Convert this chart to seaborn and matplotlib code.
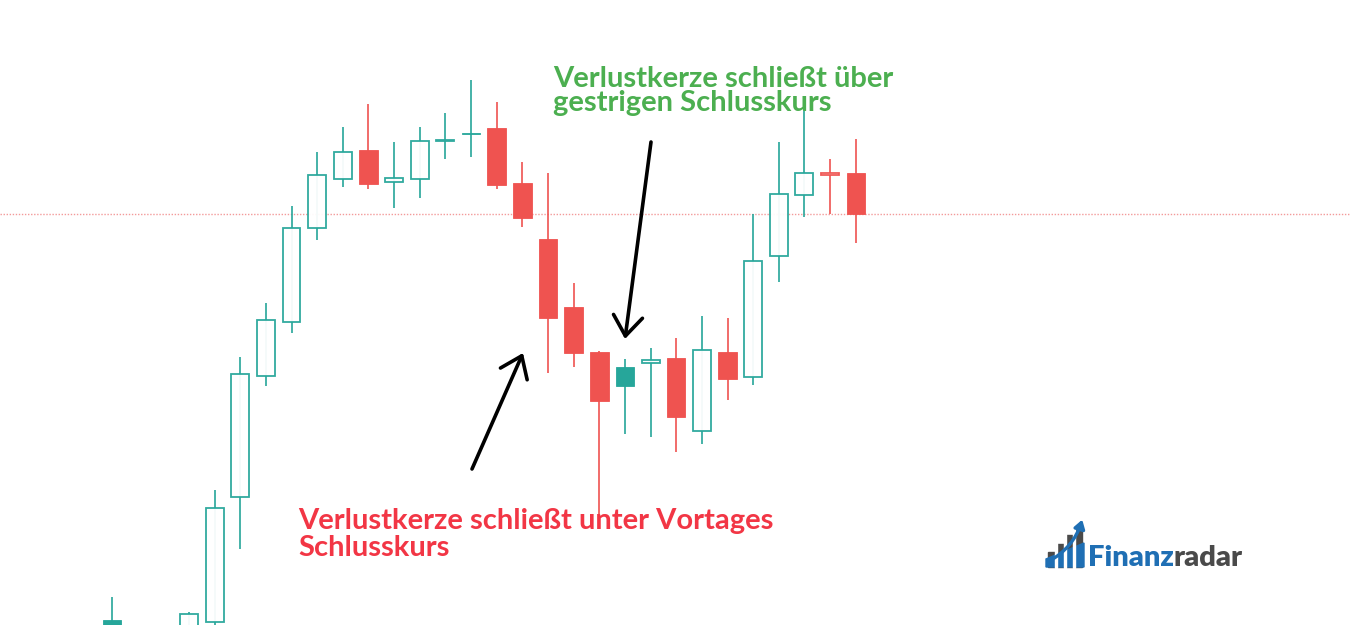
import matplotlib
matplotlib.use("Agg")

import matplotlib.pyplot as plt
from matplotlib.patches import Polygon, FancyArrowPatch, Rectangle
import numpy as np
import pandas as pd
import seaborn as sns

sns.set_theme(style="white")
plt.rcParams["font.family"] = ["Lato", "DejaVu Sans"]

UP = "#26a69a"
DOWN = "#ef5350"
GREEN_TXT = "#4caf50"
RED_TXT = "#f23645"
LOGO_BLUE = "#1f6fb4"
LOGO_GREY = "#4a4a4a"

# session index (sessions 1 and 2 lie below the visible price range)
bar_idx = [0] + list(range(3, 30))
opens = [5, -20, 3, 128, 249, 303, 397, 446, 475, 443, 446, 484.5, 492.5, 497,
         442, 386, 318, 273, 258, 262, 267, 194, 273, 248, 369, 430, 450, 452]
highs = [28, 13, 135, 268, 322, 419, 473, 498, 521, 483, 498, 512, 545, 523,
         463, 452, 342, 274, 266, 277, 287, 309, 307, 411, 483, 527, 466, 486]
lows = [-8, -25, -10, 76, 239, 292, 385, 438, 436, 417, 427, 466, 468, 436,
        398, 252, 258, 110, 191, 188, 173, 181, 225, 240, 343, 408, 411, 382]
closes = [-3, 11, 117, 251, 305, 397, 450, 473, 441, 447, 484, 485.5, 491.5, 440,
          407, 307, 272, 224, 239, 265, 208, 275, 246, 364, 431, 452.5, 452, 411]

df = pd.DataFrame({"i": bar_idx, "open": opens, "high": highs,
                   "low": lows, "close": closes})
# hollow candles: colour vs. previous close, fill by open/close
prev = df["close"].shift(1).fillna(-np.inf)
df["color"] = np.where(df["close"] >= prev, UP, DOWN)
df["hollow"] = df["close"] > df["open"]
df["bottom"] = df[["open", "close"]].min(axis=1)
df["height"] = (df["close"] - df["open"]).abs()

fig = plt.figure(figsize=(13.5, 6.25), dpi=100)
ax = fig.add_axes([0, 0, 1, 1])
ax.set_xlim(-4.366, 48.27)
ax.set_ylim(0, 625)
ax.axis("off")

# last price line
ax.axhline(df["close"].iloc[-1], color="#f39a9a", lw=1.0,
           ls=(0, (1.0, 1.2)), zorder=1)

ax.vlines(df["i"], df["low"], df["high"], colors=df["color"], lw=1.2, zorder=2)

filled = df[~df["hollow"]]
ax.bar(filled["i"], filled["height"], bottom=filled["bottom"], width=0.72,
       color=filled["color"], edgecolor=filled["color"], lw=0.6, zorder=3)
hollow = df[df["hollow"]]
ax.bar(hollow["i"], hollow["height"], bottom=hollow["bottom"], width=0.70,
       facecolor="white", edgecolor=hollow["color"], lw=1.3, alpha=0.95,
       zorder=3)

# overlay in pixel coordinates for annotations and logo
ov = fig.add_axes([0, 0, 1, 1], facecolor="none")
ov.set_xlim(0, 1350)
ov.set_ylim(625, 0)
ov.axis("off")

txt_kw = dict(fontsize=21, fontweight="bold", va="baseline", ha="left")
ov.text(553, 87, "Verlustkerze schließt über", color=GREEN_TXT, **txt_kw)
ov.text(553, 111, "gestrigen Schlusskurs", color=GREEN_TXT, **txt_kw)
ov.text(298, 529, "Verlustkerze schließt unter Vortages", color=RED_TXT, **txt_kw)
ov.text(298, 556, "Schlusskurs", color=RED_TXT, **txt_kw)

arrow_kw = dict(arrowstyle="->,head_length=0.95,head_width=0.7", lw=2.6,
                color="black", mutation_scale=15, shrinkA=0, shrinkB=0)
ov.annotate("", xy=(523, 353), xytext=(472, 469), arrowprops=arrow_kw)
ov.annotate("", xy=(625, 339), xytext=(651, 142), arrowprops=arrow_kw)

# logo
for x0, top in [(1048, 552), (1057, 544), (1066, 535), (1075, 528)]:
    ov.add_patch(Rectangle((x0, top), 7, 567 - top, color=LOGO_GREY, zorder=4))
ov.add_patch(Polygon([(1046, 567), (1046, 559), (1084, 543), (1084, 567)],
                     closed=True, color=LOGO_BLUE, zorder=5))
for x0 in [1055, 1064, 1073]:
    ov.add_patch(Rectangle((x0, 525), 2, 43, color="white", zorder=6))
ov.add_patch(FancyArrowPatch((1046, 563), (1083, 517),
                             connectionstyle="arc3,rad=0.22",
                             arrowstyle="-|>,head_length=5,head_width=3.2",
                             color=LOGO_BLUE, lw=2.4, zorder=7))

t1 = ov.text(1088, 566, "Finanz", color=LOGO_BLUE, fontsize=21,
             fontweight="heavy", va="baseline")
fig.canvas.draw()
bb = t1.get_window_extent().transformed(ov.transData.inverted())
ov.text(bb.x1, 566, "radar", color=LOGO_GREY, fontsize=21,
        fontweight="heavy", va="baseline")

fig.savefig("out.png", dpi=100, facecolor="white")
plt.close(fig)
